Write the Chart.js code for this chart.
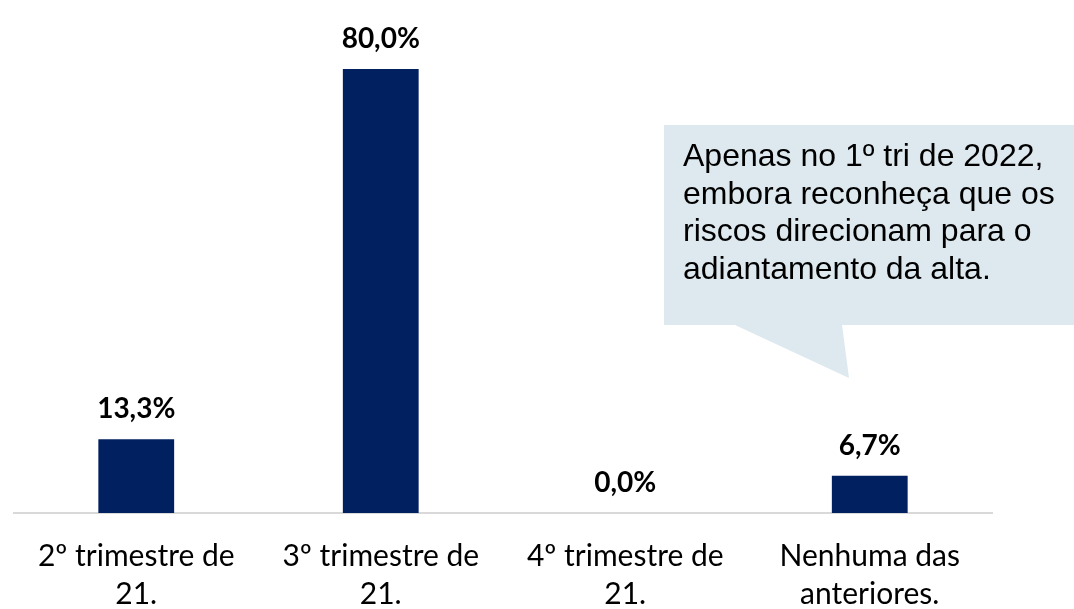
<!DOCTYPE html>
<html>
<head>
<meta charset="utf-8">
<script src="https://cdn.jsdelivr.net/npm/chart.js@4"></script>
<style>
  html, body { margin: 0; padding: 0; background: #fff; }
  .wrap { width: 1074px; height: 609px; position: relative; }
</style>
</head>
<body>
<div class="wrap"><canvas id="chart"></canvas></div>
<script>
// data
const categories = [['2º trimestre de', '21.'], ['3º trimestre de', '21.'], ['4º trimestre de', '21.'], ['Nenhuma das', 'anteriores.']];
const values = [13.3, 80.0, 0.0, 6.7];
const calloutLines = ['Apenas no 1º tri de 2022,', 'embora reconheça que os', 'riscos direcionam para o', 'adiantamento da alta.'];

const fmt = v => v.toFixed(1).replace('.', ',') + '%';

// value labels above bars
const valueLabels = {
  id: 'valueLabels',
  afterDatasetsDraw(chart) {
    const ctx = chart.ctx;
    const meta = chart.getDatasetMeta(0);
    ctx.save();
    ctx.font = 'bold 28px Lato, "Open Sans", sans-serif';
    ctx.fillStyle = '#000';
    ctx.textAlign = 'center';
    ctx.textBaseline = 'alphabetic';
    meta.data.forEach((bar, i) => {
      ctx.fillText(fmt(values[i]), bar.x, bar.y - 21);
    });
    ctx.restore();
  }
};

// speech-bubble note
const callout = {
  id: 'callout',
  afterDraw(chart) {
    const ctx = chart.ctx;
    ctx.save();
    ctx.fillStyle = '#dde9ee';
    ctx.beginPath();
    ctx.moveTo(664, 125);
    ctx.lineTo(1074, 125);
    ctx.lineTo(1074, 325);
    ctx.lineTo(842, 325);
    ctx.lineTo(849, 378);
    ctx.lineTo(735, 325);
    ctx.lineTo(664, 325);
    ctx.closePath();
    ctx.fill();
    ctx.fillStyle = '#000';
    ctx.font = '32px "Liberation Sans", Arial, sans-serif';
    ctx.textBaseline = 'alphabetic';
    calloutLines.forEach((t, i) => ctx.fillText(t, 683, 166 + i * 37.7));
    ctx.restore();
  }
};

new Chart(document.getElementById('chart'), {
  type: 'bar',
  data: {
    labels: categories,
    datasets: [{
      data: values,
      backgroundColor: '#002060',
      borderWidth: 0,
      barPercentage: 0.62,
      categoryPercentage: 0.5
    }]
  },
  options: {
    responsive: true, maintainAspectRatio: false, animation: false,
    layout: { padding: { left: 14, right: 82, top: 69, bottom: 0 } },
    plugins: { legend: { display: false }, tooltip: { enabled: false } },
    scales: {
      y: { display: false, min: 0, max: 80 },
      x: {
        grid: { display: false, drawTicks: false },
        border: { color: '#d9d9d9', width: 2 },
        ticks: { color: '#000', font: { family: 'Lato, "Open Sans", sans-serif', size: 30, lineHeight: 1.27 }, padding: 24, maxRotation: 0 },
        afterFit(scale) { scale.height = 96; }
      }
    }
  },
  plugins: [valueLabels, callout]
});
</script>
</body>
</html>
